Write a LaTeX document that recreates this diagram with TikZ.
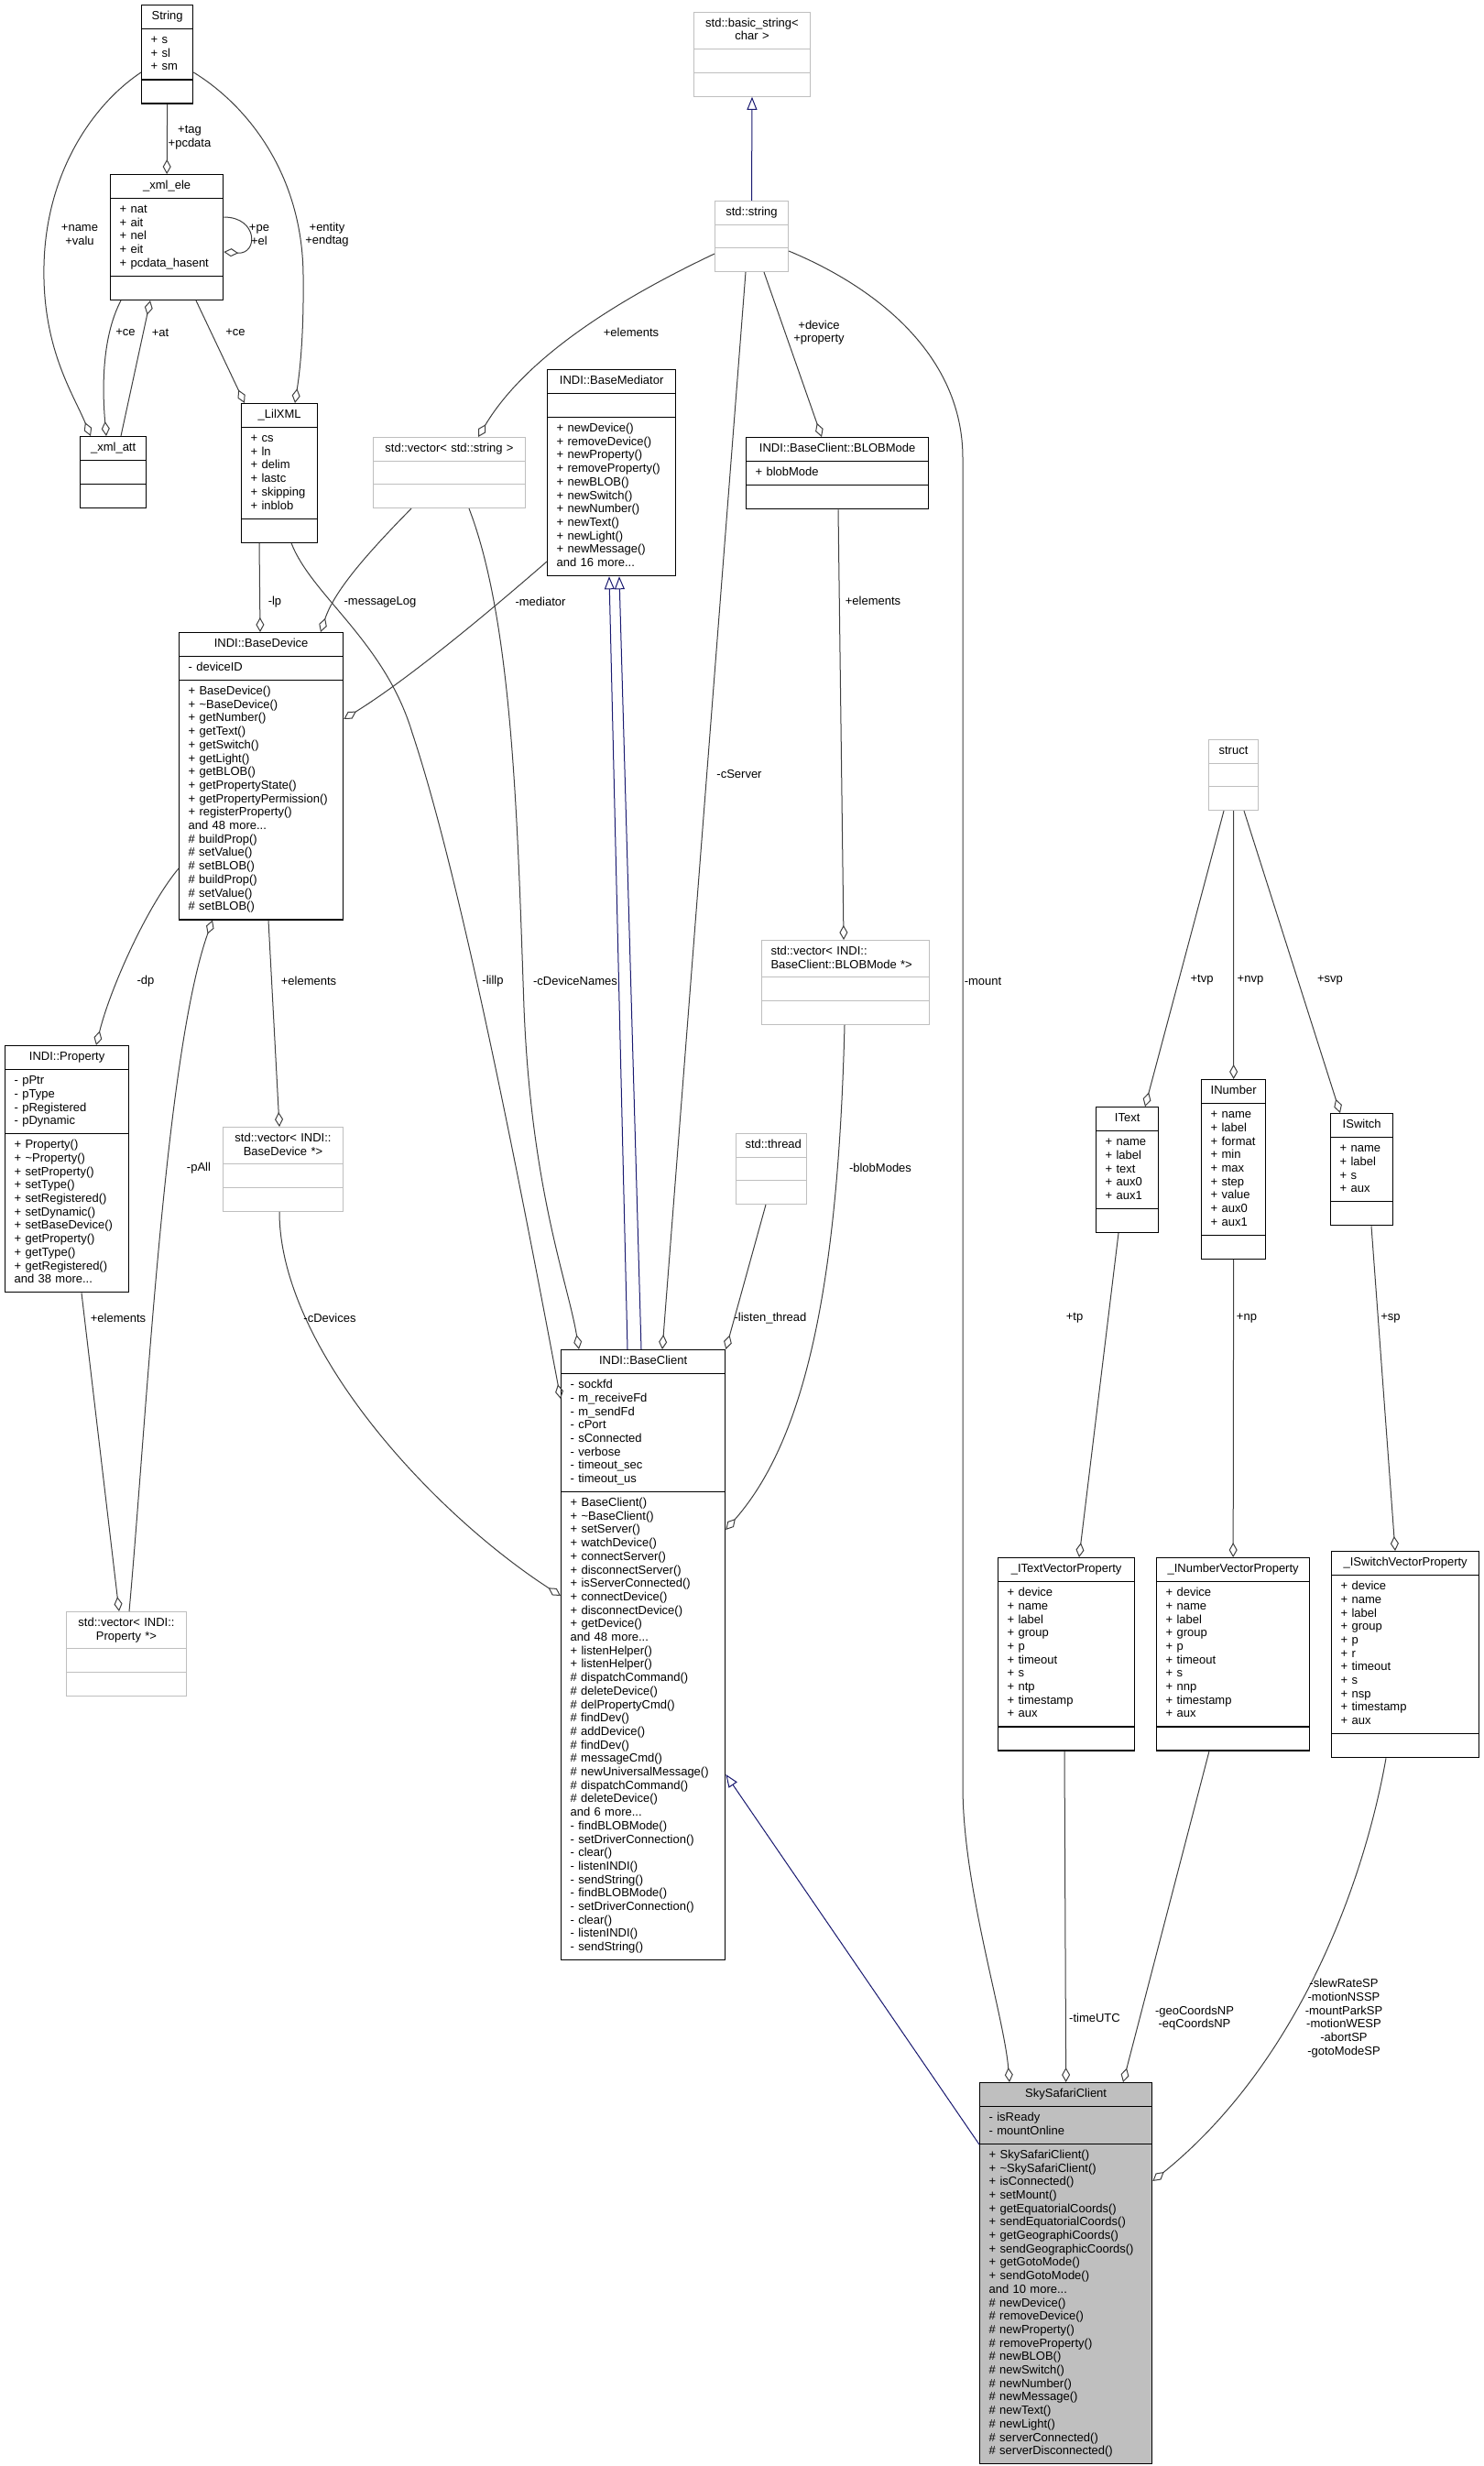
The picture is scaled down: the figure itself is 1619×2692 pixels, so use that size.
\documentclass[tikz,border=0pt]{standalone}
\usepackage{fontspec}
\setmainfont{Liberation Sans}
\usetikzlibrary{arrows.meta,shapes.multipart,calc}

\definecolor{edgegrey}{HTML}{404040}
\definecolor{boxgrey}{HTML}{BFBFBF}
\definecolor{inhblue}{HTML}{191970}
\newcommand{\rowfont}{\fontsize{13}{14.7}\selectfont\strut}
\newcommand{\lblfont}{\fontsize{13}{14.7}\selectfont}

\begin{document}
\begin{tikzpicture}[
  x=1pt, y=-1pt,
  cls/.style={rectangle split, rectangle split parts=3,
              rectangle split ignore empty parts=false, draw=black,
              line width=1.3pt, anchor=north west, align=left,
              inner xsep=10pt, inner ysep=5pt, text width=#1pt-20pt,
              font=\rowfont, fill=white},
  stdcls/.style={cls=#1, draw=boxgrey, line width=1pt},
  agg/.style={edgegrey, line width=1pt, -{Diamond[open, length=16pt, width=9pt]}},
  inh/.style={inhblue, line width=1pt, -{Triangle[open, length=14pt, width=11pt]}},
  lbl/.style={font=\lblfont, align=center, inner sep=0pt}
]
\fill[white] (0,0) rectangle (1619,2692);
\useasboundingbox (0,0) rectangle (1619,2692);

% xml parser structs
\node[cls=56] (strc) at (154,5) {\centering String\par\nodepart{two}+ s\\+ sl\\+ sm\strut\nodepart{three}\mbox{}};
\node[cls=123] (xmlele) at (120,190) {\centering \_xml\_ele\par\nodepart{two}+ nat\\+ ait\\+ nel\\+ eit\\+ pcdata\_hasent\strut\nodepart{three}\mbox{}};
\node[cls=72] (xmlatt) at (87,476) {\centering \_xml\_att\par\nodepart{two}\mbox{}\nodepart{three}\mbox{}};
\node[cls=83] (lilxml) at (263,440) {\centering \_LilXML\par\nodepart{two}+ cs\\+ ln\\+ delim\\+ lastc\\+ skipping\\+ inblob\strut\nodepart{three}\mbox{}};

% std types and INDI base classes
\node[stdcls=127] (bstr) at (757,13) {\centering std::basic\_string<\\char >\strut\par\nodepart{two}\mbox{}\nodepart{three}\mbox{}};
\node[stdcls=80] (stdstr) at (780,219) {\centering std::string\par\nodepart{two}\mbox{}\nodepart{three}\mbox{}};
\node[stdcls=166] (vstr) at (407,477) {\centering std::vector< std::string >\par\nodepart{two}\mbox{}\nodepart{three}\mbox{}};
\node[cls=140] (mediator) at (597,403) {\centering INDI::BaseMediator\par\nodepart{two}\mbox{}\nodepart{three}+ newDevice()\\+ removeDevice()\\+ newProperty()\\+ removeProperty()\\+ newBLOB()\\+ newSwitch()\\+ newNumber()\\+ newText()\\+ newLight()\\+ newMessage()\\and 16 more...\strut};
\node[cls=199] (blobmode) at (814,477) {\centering INDI::BaseClient::BLOBMode\par\nodepart{two}+ blobMode\nodepart{three}\mbox{}};
\node[stdcls=183] (vblob) at (831,1026) {std::vector< INDI::\\BaseClient::BLOBMode *>\strut\nodepart{two}\mbox{}\nodepart{three}\mbox{}};
\node[cls=179] (basedev) at (195,690) {\centering INDI::BaseDevice\par\nodepart{two}- deviceID\nodepart{three}+ BaseDevice()\\+ \textasciitilde BaseDevice()\\+ getNumber()\\+ getText()\\+ getSwitch()\\+ getLight()\\+ getBLOB()\\+ getPropertyState()\\+ getPropertyPermission()\\+ registerProperty()\\and 48 more...\\\# buildProp()\\\# setValue()\\\# setBLOB()\\\# buildProp()\\\# setValue()\\\# setBLOB()\strut};
\node[cls=135] (prop) at (5,1141) {\centering INDI::Property\par\nodepart{two}- pPtr\\- pType\\- pRegistered\\- pDynamic\strut\nodepart{three}+ Property()\\+ \textasciitilde Property()\\+ setProperty()\\+ setType()\\+ setRegistered()\\+ setDynamic()\\+ setBaseDevice()\\+ getProperty()\\+ getType()\\+ getRegistered()\\and 38 more...\strut};
\node[stdcls=131] (vdev) at (243,1230) {\centering std::vector< INDI::\\BaseDevice *>\strut\par\nodepart{two}\mbox{}\nodepart{three}\mbox{}};
\node[stdcls=131] (vprop) at (72,1759) {\centering std::vector< INDI::\\Property *>\strut\par\nodepart{two}\mbox{}\nodepart{three}\mbox{}};
\node[stdcls=77] (thread) at (803,1237) {\centering std::thread\par\nodepart{two}\mbox{}\nodepart{three}\mbox{}};
\node[cls=179] (client) at (612,1473) {\centering INDI::BaseClient\par\nodepart{two}- sockfd\\- m\_receiveFd\\- m\_sendFd\\- cPort\\- sConnected\\- verbose\\- timeout\_sec\\- timeout\_us\strut\nodepart{three}+ BaseClient()\\+ \textasciitilde BaseClient()\\+ setServer()\\+ watchDevice()\\+ connectServer()\\+ disconnectServer()\\+ isServerConnected()\\+ connectDevice()\\+ disconnectDevice()\\+ getDevice()\\and 48 more...\\+ listenHelper()\\+ listenHelper()\\\# dispatchCommand()\\\# deleteDevice()\\\# delPropertyCmd()\\\# findDev()\\\# addDevice()\\\# findDev()\\\# messageCmd()\\\# newUniversalMessage()\\\# dispatchCommand()\\\# deleteDevice()\\and 6 more...\\- findBLOBMode()\\- setDriverConnection()\\- clear()\\- listenINDI()\\- sendString()\\- findBLOBMode()\\- setDriverConnection()\\- clear()\\- listenINDI()\\- sendString()\strut};

% property structs
\node[stdcls=54] (structn) at (1319,807) {\centering struct\par\nodepart{two}\mbox{}\nodepart{three}\mbox{}};
\node[cls=68] (itext) at (1196,1208) {\centering IText\par\nodepart{two}+ name\\+ label\\+ text\\+ aux0\\+ aux1\strut\nodepart{three}\mbox{}};
\node[cls=70] (inum) at (1311,1178) {\centering INumber\par\nodepart{two}+ name\\+ label\\+ format\\+ min\\+ max\\+ step\\+ value\\+ aux0\\+ aux1\strut\nodepart{three}\mbox{}};
\node[cls=68] (iswitch) at (1452,1215) {\centering ISwitch\par\nodepart{two}+ name\\+ label\\+ s\\+ aux\strut\nodepart{three}\mbox{}};
\node[cls=149] (tvp) at (1089,1700) {\centering \_ITextVectorProperty\par\nodepart{two}+ device\\+ name\\+ label\\+ group\\+ p\\+ timeout\\+ s\\+ ntp\\+ timestamp\\+ aux\strut\nodepart{three}\mbox{}};
\node[cls=167] (nvp) at (1262,1700) {\centering \_INumberVectorProperty\par\nodepart{two}+ device\\+ name\\+ label\\+ group\\+ p\\+ timeout\\+ s\\+ nnp\\+ timestamp\\+ aux\strut\nodepart{three}\mbox{}};
\node[cls=161] (svp) at (1453,1693) {\centering \_ISwitchVectorProperty\par\nodepart{two}+ device\\+ name\\+ label\\+ group\\+ p\\+ r\\+ timeout\\+ s\\+ nsp\\+ timestamp\\+ aux\strut\nodepart{three}\mbox{}};

% the documented class
\node[cls=188, fill=boxgrey] (sky) at (1069,2273) {\centering SkySafariClient\par\nodepart{two}- isReady\\- mountOnline\strut\nodepart{three}+ SkySafariClient()\\+ \textasciitilde SkySafariClient()\\+ isConnected()\\+ setMount()\\+ getEquatorialCoords()\\+ sendEquatorialCoords()\\+ getGeographiCoords()\\+ sendGeographicCoords()\\+ getGotoMode()\\+ sendGotoMode()\\and 10 more...\\\# newDevice()\\\# removeDevice()\\\# newProperty()\\\# removeProperty()\\\# newBLOB()\\\# newSwitch()\\\# newNumber()\\\# newMessage()\\\# newText()\\\# newLight()\\\# serverConnected()\\\# serverDisconnected()\strut};

% aggregation edges
\draw[agg] ([yshift=-74pt]strc.north west) .. controls (100,115) and (50,190) .. (48,290)
      .. controls (46,380) and (80,430) .. ([xshift=12pt]xmlatt.north west);
\draw[agg] (strc.south) -- (xmlele.north);
\draw[agg] ([yshift=-74pt]strc.north east) .. controls (270,115) and (330,190) .. (331,300)
      .. controls (332,380) and (325,420) .. ([xshift=59pt]lilxml.north west);
\draw[agg] ([yshift=-47pt]xmlele.north east) .. controls (282,237) and (282,278) .. ([yshift=-85pt]xmlele.north east);
\draw[agg] ([xshift=12pt]xmlele.south west) .. controls (110,370) and (112,430) .. ([xshift=29pt]xmlatt.north west);
\draw[agg] ([xshift=45pt]xmlatt.north west) -- ([xshift=44pt]xmlele.south west);
\draw[agg] ([xshift=94pt]xmlele.south west) -- ([xshift=4pt]lilxml.north west);
\draw[agg] ([xshift=20pt]lilxml.south west) -- ([xshift=89pt]basedev.north west);
\draw[agg] ([xshift=42pt]vstr.south west) .. controls (400,605) and (365,645) .. ([xshift=155pt]basedev.north west);
\draw[agg] ([yshift=-210pt]mediator.north west) .. controls (520,680) and (440,745) .. ([yshift=-95pt]basedev.north east);
\draw[agg] ([yshift=-58pt]stdstr.north west) .. controls (700,315) and (580,380) .. ([xshift=115pt]vstr.north west);
\draw[agg] ([xshift=54pt]stdstr.south west) -- ([xshift=83pt]blobmode.north west);
\draw[agg] ([xshift=34pt]stdstr.south west) -- ([xshift=111pt]client.north west);
\draw[agg] ([yshift=-55pt]stdstr.north east) .. controls (960,315) and (1051,390) .. (1051,500)
      -- (1051,1950) .. controls (1051,2060) and (1096,2200) .. ([xshift=33pt]sky.north west);
\draw[agg] ([xshift=101pt]blobmode.south west) -- ([xshift=90pt]vblob.north west);
\draw[agg] ([yshift=-258pt]basedev.north west) .. controls (160,990) and (120,1080) .. ([xshift=100pt]prop.north west);
\draw[agg] ([xshift=84pt]prop.south west) -- ([xshift=58pt]vprop.north west);
\draw[agg] ([xshift=69pt]vprop.north west) .. controls (160,1550) and (180,1150) .. ([xshift=37pt]basedev.south west);
\draw[agg] ([xshift=98pt]basedev.south west) -- ([xshift=62pt]vdev.north west);
\draw[agg] ([xshift=62pt]vdev.south west) .. controls (305,1470) and (470,1650) .. ([yshift=-269pt]client.north west);
\draw[agg] ([xshift=55pt]lilxml.south west) .. controls (340,650) and (420,700) .. (450,800)
      .. controls (500,950) and (560,1250) .. ([yshift=-54pt]client.north west);
\draw[agg] ([xshift=105pt]vstr.south west) .. controls (560,680) and (565,900) .. (572,1100)
      .. controls (580,1300) and (620,1400) .. ([xshift=20pt]client.north west);
\draw[agg] ([xshift=33pt]thread.south west) -- (client.north east);
\draw[agg] ([xshift=91pt]vblob.south west) .. controls (915,1400) and (880,1570) .. ([yshift=-197pt]client.north east);
\draw[agg] ([xshift=17pt]structn.south west) -- ([xshift=54pt]itext.north west);
\draw[agg] (structn.south) -- (inum.north);
\draw[agg] ([xshift=39pt]structn.south west) -- ([xshift=11pt]iswitch.north west);
\draw[agg] ([xshift=25pt]itext.south west) -- ([xshift=89pt]tvp.north west);
\draw[agg] (inum.south) -- (nvp.north);
\draw[agg] ([xshift=45pt]iswitch.south west) -- ([xshift=70pt]svp.north west);
\draw[agg] ([xshift=73pt]tvp.south west) -- (sky.north);
\draw[agg] ([xshift=58pt]nvp.south west) -- ([xshift=157pt]sky.north west);
\draw[agg] ([xshift=60pt]svp.south west) .. controls (1490,2050) and (1420,2250) .. ([yshift=-108pt]sky.north east);

% inheritance
\draw[inh] (stdstr.north) -- (bstr.south);
\draw[inh] ([xshift=73pt]client.north west) -- ([xshift=68pt]mediator.south west);
\draw[inh] ([xshift=88pt]client.north west) -- ([xshift=79pt]mediator.south west);
\draw[inh] ([yshift=-68pt]sky.north west) -- ([yshift=-464pt]client.north east);

% edge labels
\node[lbl] (lname) at (87,256) {+name\\+valu};
\node[lbl] (ltag) at (207,150) {+tag\\+pcdata};
\node[lbl] (lentity) at (357,256) {+entity\\+endtag};
\node[lbl] (lpe) at (283,256) {+pe\\+el};
\node[lbl] (lce1) at (137,363) {+ce};
\node[lbl] (lat) at (175,363) {+at};
\node[lbl] (lce2) at (257,363) {+ce};
\node[lbl] (llp) at (300,657) {-lp};
\node[lbl] (lmsg) at (415,657) {-messageLog};
\node[lbl] (lmed) at (590,657) {-mediator};
\node[lbl] (lelem1) at (689,363) {+elements};
\node[lbl] (ldevprop) at (894,363) {+device\\+property};
\node[lbl] (lcserver) at (807,845) {-cServer};
\node[lbl] (lmount) at (1073,1071) {-mount};
\node[lbl] (lelem2) at (953,656) {+elements};
\node[lbl] (ldp) at (159,1071) {-dp};
\node[lbl] (lpall) at (217,1275) {-pAll};
\node[lbl] (lelem3) at (337,1071) {+elements};
\node[lbl] (lelem4) at (129,1439) {+elements};
\node[lbl] (lcdev) at (360,1439) {-cDevices};
\node[lbl] (llillp) at (538,1071) {-lillp};
\node[lbl] (lcdn) at (628,1071) {-cDeviceNames};
\node[lbl] (llisten) at (841,1439) {-listen\_thread};
\node[lbl] (lblobm) at (961,1275) {-blobModes};
\node[lbl] (ltvp) at (1312,1070) {+tvp};
\node[lbl] (lnvp) at (1365,1070) {+nvp};
\node[lbl] (lsvp) at (1452,1070) {+svp};
\node[lbl] (ltp) at (1173,1439) {+tp};
\node[lbl] (lnp) at (1361,1439) {+np};
\node[lbl] (lsp) at (1518,1439) {+sp};
\node[lbl] (ltime) at (1195,2203) {-timeUTC};
\node[lbl] (lgeo) at (1304,2203) {-geoCoordsNP\\-eqCoordsNP};
\node[lbl] (lsw) at (1467,2203) {-slewRateSP\\-motionNSSP\\-mountParkSP\\-motionWESP\\-abortSP\\-gotoModeSP};
\end{tikzpicture}
\end{document}
